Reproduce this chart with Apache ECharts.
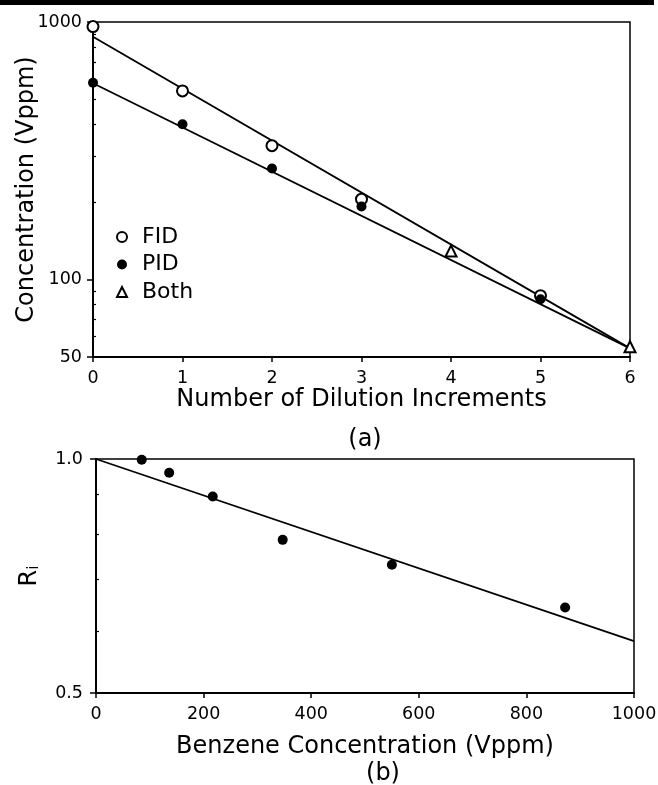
<!DOCTYPE html>
<html><head><meta charset="utf-8">
<script src="https://cdn.jsdelivr.net/npm/echarts@6/dist/echarts.min.js"></script>
<style>html,body{margin:0;padding:0;background:#fff}#c{width:658px;height:785px}</style>
</head><body><div id="c"></div>
<script>
// ---- Panel (a): concentration vs. dilution increments ----
const fidX = [0, 1, 2, 3, 5];
const fidVals = [960, 540, 331, 205, 86.5];
const pidX = [0, 1, 2, 3, 5];
const pidVals = [581, 401, 270, 192, 83.8];
const bothX = [4, 6];
const bothVals = [129, 54.8];
const fidFitX = [0, 6];
const fidFitVals = [877, 54];
const pidFitX = [0, 6];
const pidFitVals = [578, 54];
const concLabelValues = [50, 100, 1000];
const concMinorTicks = [60, 70, 80, 90, 200, 300, 400, 500, 600, 700, 800, 900];

// ---- Panel (b): Ri vs. benzene concentration ----
const benzeneX = [85, 136, 217, 347, 550, 872];
const riVals = [0.998, 0.960, 0.895, 0.787, 0.731, 0.644];
const riFitX = [0, 1000];
const riFitVals = [1.0, 0.583];
const riLabelValues = [0.5, 1.0];
const riMinorTicks = [0.6, 0.7, 0.8, 0.9];

const zip = (xs, ys) => xs.map((x, i) => [x, ys[i]]);
const FONT = 'DejaVu Sans';
const black = '#000';

const chart = echarts.init(document.getElementById('c'), null, {renderer: 'canvas'});

const baseX = {
  type: 'value',
  axisLine: {show: true, onZero: false, lineStyle: {color: black, width: 2}},
  axisTick: {show: true, inside: false, length: 5, lineStyle: {color: black, width: 1.5}},
  axisLabel: {color: black, fontFamily: FONT, fontSize: 17.5, margin: 12, formatter: v => String(v)},
  splitLine: {show: false},
  nameLocation: 'middle',
  nameMoveOverlap: false,
  nameTextStyle: {color: black, fontFamily: FONT, fontSize: 24}
};

const option = {
  backgroundColor: '#fff',
  animation: false,
  graphic: [
    {type: 'rect', shape: {x: 0, y: 0, width: 654, height: 5}, style: {fill: black}},
    {type: 'text', style: {text: '(a)', x: 365, y: 440, align: 'center', verticalAlign: 'middle', fontFamily: FONT, fontSize: 24, fill: black}},
    {type: 'text', style: {text: '(b)', x: 383, y: 774, align: 'center', verticalAlign: 'middle', fontFamily: FONT, fontSize: 24, fill: black}}
  ],
  grid: [
    {left: 93, top: 22, width: 537, height: 335, show: true, borderColor: black, borderWidth: 1.5,
      containLabel: false, outerBoundsMode: 'none'},
    {left: 96, top: 459, width: 538, height: 234, show: true, borderColor: black, borderWidth: 1.5,
      containLabel: false, outerBoundsMode: 'none'}
  ],
  legend: {
    data: ['FID', 'PID', 'Both'],
    orient: 'vertical',
    left: 116,
    top: 226,
    padding: 0,
    itemWidth: 10,
    itemHeight: 10,
    itemGap: 5.5,
    selectedMode: false,
    textStyle: {color: black, fontFamily: FONT, fontSize: 22, lineHeight: 22, padding: [0, 0, 0, 10]}
  },
  xAxis: [
    Object.assign({}, baseX, {gridIndex: 0, min: 0, max: 6, interval: 1,
      name: 'Number of Dilution Increments', nameGap: 31}),
    Object.assign({}, baseX, {gridIndex: 1, min: 0, max: 1000, interval: 200,
      name: 'Benzene Concentration (Vppm)', nameGap: 42})
  ],
  yAxis: [
    {
      type: 'log', logBase: 10, gridIndex: 0, min: 50, max: 1000,
      axisLine: {show: true, onZero: false, lineStyle: {color: black, width: 2}},
      axisTick: {show: true, length: 6, customValues: concLabelValues, lineStyle: {color: black, width: 1.5}},
      axisLabel: {color: black, fontFamily: FONT, fontSize: 17.5, margin: 11, customValues: concLabelValues,
        formatter: v => String(Math.round(v))},
      splitLine: {show: false},
      name: 'Concentration (Vppm)', nameLocation: 'middle', nameGap: 54, nameMoveOverlap: false,
      nameTextStyle: {color: black, fontFamily: FONT, fontSize: 24}
    },
    {
      type: 'log', logBase: 10, gridIndex: 0, min: 50, max: 1000,
      axisLine: {show: false},
      axisTick: {show: true, length: 3, customValues: concMinorTicks, lineStyle: {color: black, width: 1.2}},
      axisLabel: {show: false},
      splitLine: {show: false}
    },
    {
      type: 'log', logBase: 10, gridIndex: 1, min: 0.5, max: 1.0,
      axisLine: {show: true, onZero: false, lineStyle: {color: black, width: 2}},
      axisTick: {show: true, length: 6, customValues: riLabelValues, lineStyle: {color: black, width: 1.5}},
      axisLabel: {color: black, fontFamily: FONT, fontSize: 17.5, margin: 13, customValues: riLabelValues,
        formatter: v => Number(v).toFixed(1)},
      splitLine: {show: false},
      name: 'R{s|i}', nameLocation: 'middle', nameGap: 54, nameMoveOverlap: false,
      nameTextStyle: {color: black, fontFamily: FONT, fontSize: 24, rich: {s: {fontFamily: FONT, fontSize: 15, verticalAlign: 'bottom', padding: [8, 0, 0, 0]}}}
    },
    {
      type: 'log', logBase: 10, gridIndex: 1, min: 0.5, max: 1.0,
      axisLine: {show: false},
      axisTick: {show: true, length: 3, customValues: riMinorTicks, lineStyle: {color: black, width: 1.2}},
      axisLabel: {show: false},
      splitLine: {show: false}
    }
  ],
  series: [
    {name: 'FID fit', type: 'line', xAxisIndex: 0, yAxisIndex: 0, data: zip(fidFitX, fidFitVals),
      showSymbol: false, silent: true, lineStyle: {color: black, width: 1.8}, z: 1},
    {name: 'PID fit', type: 'line', xAxisIndex: 0, yAxisIndex: 0, data: zip(pidFitX, pidFitVals),
      showSymbol: false, silent: true, lineStyle: {color: black, width: 1.8}, z: 1},
    {name: 'FID', type: 'scatter', xAxisIndex: 0, yAxisIndex: 0, data: zip(fidX, fidVals),
      symbol: 'emptyCircle', symbolSize: 11, itemStyle: {color: black, borderColor: black, borderWidth: 1.5, opacity: 1}, z: 3},
    {name: 'PID', type: 'scatter', xAxisIndex: 0, yAxisIndex: 0, data: zip(pidX, pidVals),
      symbol: 'circle', symbolSize: 10, itemStyle: {color: black, opacity: 1}, z: 3},
    {name: 'Both', type: 'scatter', xAxisIndex: 0, yAxisIndex: 0, data: zip(bothX, bothVals),
      symbol: 'emptyTriangle', symbolSize: 11, itemStyle: {color: black, borderColor: black, borderWidth: 1.3, opacity: 1}, z: 3},
    {name: 'Ri fit', type: 'line', xAxisIndex: 1, yAxisIndex: 2, data: zip(riFitX, riFitVals),
      showSymbol: false, silent: true, lineStyle: {color: black, width: 1.8}, z: 1},
    {name: 'Ri', type: 'scatter', xAxisIndex: 1, yAxisIndex: 2, data: zip(benzeneX, riVals),
      symbol: 'circle', symbolSize: 10, itemStyle: {color: black, opacity: 1}, z: 3}
  ]
};
chart.setOption(option);
</script>
</body></html>
